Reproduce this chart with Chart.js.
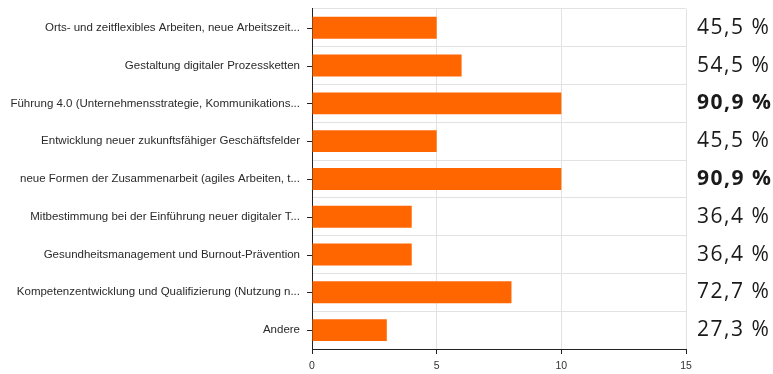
<!DOCTYPE html>
<html>
<head>
<meta charset="utf-8">
<script src="https://cdn.jsdelivr.net/npm/chart.js@4/dist/chart.umd.min.js"></script>
<style>
  html, body { margin: 0; padding: 0; background: #ffffff; }
  #wrap { width: 773px; height: 374px; }
</style>
</head>
<body>
<div id="wrap"><canvas id="c" width="773" height="374"></canvas></div>
<script>
// Survey topics (labels as shown, truncated by the survey tool)
const topics = [
  'Orts- und zeitflexibles Arbeiten, neue Arbeitszeit...',
  'Gestaltung digitaler Prozessketten',
  'Führung 4.0 (Unternehmensstrategie, Kommunikations...',
  'Entwicklung neuer zukunftsfähiger Geschäftsfelder',
  'neue Formen der Zusammenarbeit (agiles Arbeiten, t...',
  'Mitbestimmung bei der Einführung neuer digitaler T...',
  'Gesundheitsmanagement und Burnout-Prävention',
  'Kompetenzentwicklung und Qualifizierung (Nutzung n...',
  'Andere'
];
// Number of answers per topic
const answers = [5, 6, 10, 5, 10, 4, 4, 8, 3];
// Share of respondents per topic, in percent
const shares = [45.5, 54.5, 90.9, 45.5, 90.9, 36.4, 36.4, 72.7, 27.3];
// Value axis ticks
const xTicks = [0, 5, 10, 15];

const BAR = '#ff6600';
const GRID = '#e2e2e2';
const AXIS = '#222222';

// Short tick marks at each category centre plus the share labels on the right
const sidePlugin = {
  id: 'sideLabels',
  afterDraw(chart) {
    const ctx = chart.ctx;
    const y = chart.scales.y;
    const area = chart.chartArea;
    const top = Math.max(...shares);
    ctx.save();
    ctx.strokeStyle = AXIS;
    ctx.lineWidth = 1;
    topics.forEach((t, i) => {
      const py = Math.round(y.getPixelForValue(i)) + 0.5;
      ctx.beginPath();
      ctx.moveTo(area.left - 5, py);
      ctx.lineTo(area.left, py);
      ctx.stroke();
    });
    ctx.fillStyle = '#1a1a1a';
    ctx.textAlign = 'left';
    ctx.textBaseline = 'middle';
    ctx.letterSpacing = '1.5px';
    shares.forEach((s, i) => {
      const py = y.getPixelForValue(i);
      ctx.font = (s === top ? 'bold ' : '') + '21px "Open Sans"';
      ctx.fillText(s.toFixed(1).replace('.', ',') + ' %', area.right + 11, py);
    });
    ctx.restore();
  }
};

new Chart(document.getElementById('c'), {
  type: 'bar',
  data: {
    labels: topics,
    datasets: [{
      data: answers,
      backgroundColor: BAR,
      borderWidth: 0,
      barPercentage: 0.58,
      categoryPercentage: 1.0
    }]
  },
  options: {
    indexAxis: 'y',
    responsive: false,
    animation: false,
    devicePixelRatio: 1,
    layout: { padding: { top: 0, right: 87, left: 0, bottom: 0 } },
    plugins: {
      legend: { display: false },
      tooltip: { enabled: false }
    },
    scales: {
      x: {
        min: xTicks[0],
        max: xTicks[xTicks.length - 1],
        afterBuildTicks(scale) { scale.ticks = xTicks.map(v => ({ value: v })); },
        afterFit(scale) { scale.height = 25; },
        grid: { color: GRID, tickColor: AXIS, tickLength: 5, drawOnChartArea: true },
        border: { color: AXIS, width: 1 },
        ticks: {
          color: '#333333',
          font: { family: 'Liberation Sans', size: 10.5 },
          padding: 6,
          maxRotation: 0
        }
      },
      y: {
        afterFit(scale) { scale.width = 312; },
        grid: { color: GRID, offset: true, drawTicks: true, tickLength: 10, tickColor: 'rgba(0,0,0,0)' },
        border: { color: AXIS, width: 1 },
        ticks: {
          color: '#2a2a2a',
          font: { family: 'Liberation Sans', size: 11.5 },
          padding: 2,
          autoSkip: false
        }
      }
    }
  },
  plugins: [sidePlugin]
});
</script>
</body>
</html>
